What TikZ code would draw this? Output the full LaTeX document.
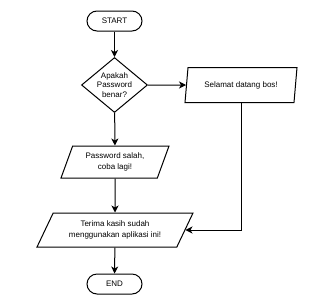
\documentclass[tikz,border=0pt]{standalone}
\usepackage{fontspec}
\setmainfont{Liberation Sans}
\usetikzlibrary{arrows.meta, positioning, shapes.geometric}
\tikzset{
    terminal/.style={draw, line width=1pt, rectangle, rounded corners=10pt,
                     minimum width=55pt, minimum height=20pt, inner sep=0pt,
                     font=\fontsize{8}{10.5}\selectfont},
    decision/.style={draw, line width=1pt, diamond, aspect=1.2,
                     minimum width=66pt, minimum height=55pt, inner sep=-3pt,
                     align=center, font=\fontsize{8}{9.6}\selectfont},
    iobox/.style={draw, line width=1pt, trapezium, trapezium stretches body,
                  inner sep=0pt, align=center,
                  font=\fontsize{8}{10.5}\selectfont},
    flow/.style={-{Stealth[length=7pt, width=7pt, inset=2pt]}, line width=1pt},
}
\begin{document}
\begin{tikzpicture}[x=1pt, y=-1pt]
\useasboundingbox (0,0) rectangle (336,303);
% Start and the password check.
\node[terminal] (start) at (114.5, 21) {START};
\node[decision] (cek) at (114.5, 85) {Apakah\\Password\\benar?};
% Outputs.
\node[iobox, trapezium left angle=68, trapezium right angle=112,
      minimum width=112pt, minimum height=35pt] (selamat) at (241, 85)
      {Selamat datang bos!};
\node[iobox, trapezium left angle=57, trapezium right angle=123,
      minimum width=108pt, minimum height=32pt] (salah) at (115, 162)
      {Password salah,\\coba lagi!};
\node[iobox, trapezium left angle=48, trapezium right angle=132,
      minimum width=156pt, minimum height=34pt] (terima) at (115, 230)
      {Terima kasih sudah\\menggunakan aplikasi ini!};
% End.
\node[terminal] (end) at (114.5, 284) {END};
% Edges.
\draw[flow] (start) -- (cek);
\draw[flow] (cek) -- (selamat);
\draw[flow] (cek) -- (salah);
\draw[flow] (salah) -- (terima);
\draw[flow] (selamat) |- (terima);
\draw[flow] (terima) -- (end);
\end{tikzpicture}
\end{document}
